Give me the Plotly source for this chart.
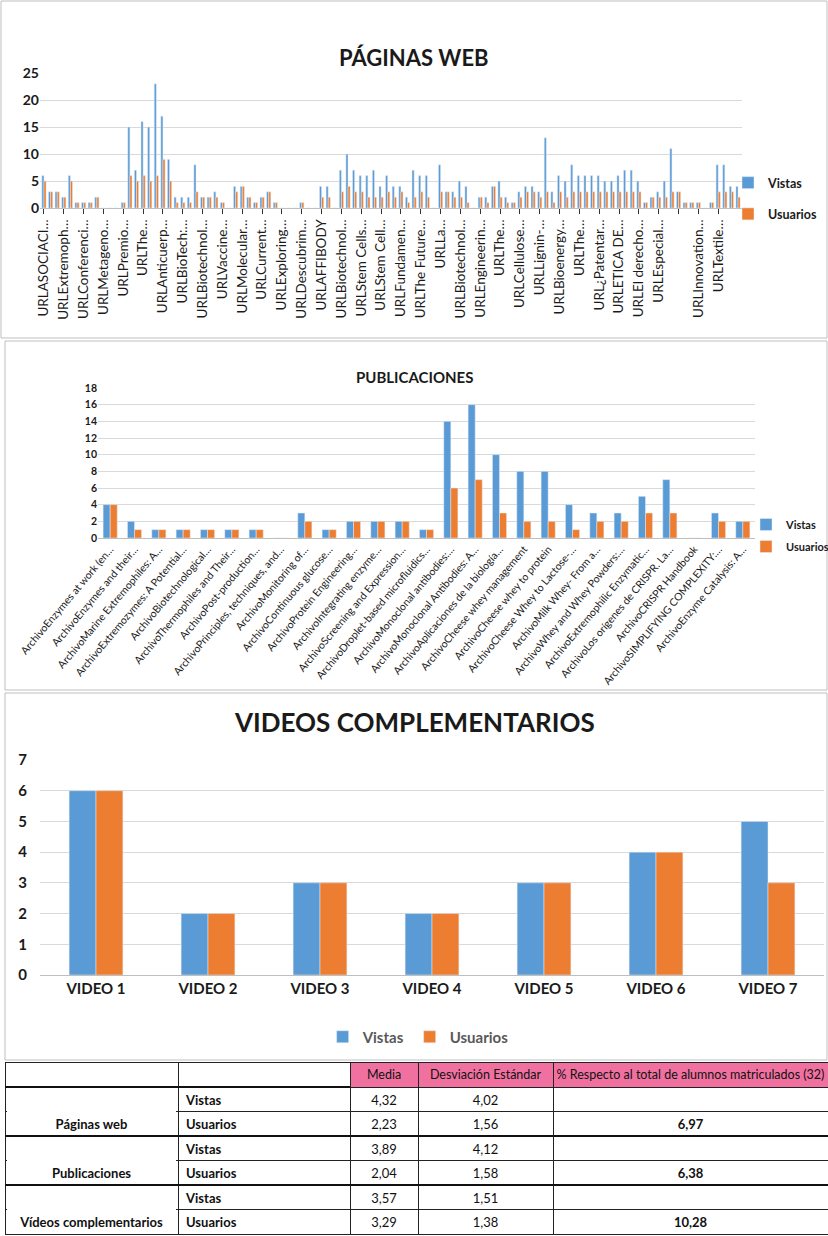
import plotly.graph_objects as go

# ---------------- DATA ----------------
web_labels = [
    "URLASOCIACI…", "URLExtremoph…", "URLConferenci…", "URLMetageno…", "URLPremio…",
    "URLThe…", "URLAnticuerp…", "URLBioTech:…", "URLBiotechnol…", "URLVaccine…",
    "URLMolecular…", "URLCurrent…", "URLExploring…", "URLDescubrim…", "URLAFFIBODY",
    "URLBiotechnol…", "URLStem Cells…", "URLStem Cell…", "URLFundamen…", "URLThe Future…",
    "URLLa…", "URLBiotechnol…", "URLEngineerin…", "URLThe…", "URLCellulose…",
    "URLLignin-…", "URLBioenergy…", "URLThe…", "URL¿Patentar…", "URLETICA DE…",
    "URLEl derecho…", "URLEspecial…", "", "URLInnovation…", "URLTextile…",
]
web_vistas = [
    6, 3, 3, 2, 6, 1, 1, 1, 2, 0,
    0, 0, 1, 15, 7, 16, 15, 23, 17, 9,
    2, 2, 2, 8, 2, 2, 3, 1, 0, 4,
    4, 2, 1, 2, 3, 1, 0, 0, 0, 1,
    0, 0, 4, 4, 0, 7, 10, 7, 6, 6,
    7, 4, 6, 4, 4, 2, 7, 6, 6, 0,
    8, 3, 3, 5, 4, 0, 2, 2, 4, 5,
    2, 1, 3, 4, 4, 3, 13, 3, 6, 5,
    8, 6, 6, 6, 6, 5, 5, 6, 7, 7,
    5, 1, 2, 3, 5, 11, 3, 1, 1, 1,
    0, 1, 8, 8, 4, 4,
]
web_usuarios = [
    5, 3, 3, 2, 5, 1, 1, 1, 2, 0,
    0, 0, 1, 6, 5, 6, 5, 6, 9, 5,
    1, 1, 1, 3, 2, 2, 2, 1, 0, 3,
    4, 2, 1, 2, 3, 1, 0, 0, 0, 1,
    0, 0, 2, 2, 0, 3, 4, 3, 3, 2,
    2, 2, 3, 2, 3, 1, 2, 3, 2, 0,
    3, 3, 2, 2, 1, 0, 2, 1, 4, 2,
    1, 1, 2, 3, 3, 2, 3, 1, 3, 2,
    3, 3, 3, 3, 3, 3, 3, 3, 3, 3,
    3, 1, 2, 2, 2, 3, 3, 1, 1, 1,
    0, 1, 3, 3, 3, 2,
]

pub_labels = [
    "ArchivoEnzymes at work (en…", "ArchivoEnzymes and their…", "ArchivoMarine Extremophiles: A…",
    "ArchivoExtremozymes: A Potential…", "ArchivoBiotechnological…", "ArchivoThermophiles and Their…",
    "ArchivoPost-production…", "ArchivoPrinciples, techniques, and…", "ArchivoMonitoring of…",
    "ArchivoContinuous glucose…", "ArchivoProtein Engineering…", "ArchivoIntegrating enzyme…",
    "ArchivoScreening and Expression…", "ArchivoDroplet-based microfluidics…", "ArchivoMonoclonal antibodies:…",
    "ArchivoMonoclonal Antibodies: A…", "ArchivoAplicaciones de la biología…", "ArchivoCheese whey management",
    "ArchivoCheese whey to protein", "ArchivoCheese Whey to Lactose-…", "ArchivoMilk Whey- From a…",
    "ArchivoWhey and Whey Powders:…", "ArchivoExtremophilic Enzymatic…", "ArchivoLos orígenes de CRISPR. La…",
    "ArchivoCRISPR Handbook", "ArchivoSIMPLIFYING COMPLEXITY:…", "ArchivoEnzyme Catalysis: A…",
]
pub_vistas = [4, 2, 1, 1, 1, 1, 1, 0, 3, 1, 2, 2, 2, 1, 14, 16, 10, 8, 8, 4, 3, 3, 5, 7, 0, 3, 2]
pub_usuarios = [4, 1, 1, 1, 1, 1, 1, 0, 2, 1, 2, 2, 2, 1, 6, 7, 3, 2, 2, 1, 2, 2, 3, 3, 0, 2, 2]

vid_labels = ["VIDEO 1", "VIDEO 2", "VIDEO 3", "VIDEO 4", "VIDEO 5", "VIDEO 6", "VIDEO 7"]
vid_vistas = [6, 2, 3, 2, 3, 4, 5]
vid_usuarios = [6, 2, 3, 2, 3, 4, 3]

table_header = ["", "", "Media", "Desviación Estándar", "% Respecto al total de alumnos matriculados (32)"]
table_groups = ["", "Páginas web", "", "Publicaciones", "", "Vídeos complementarios"]
table_metrics = ["Vistas", "Usuarios", "Vistas", "Usuarios", "Vistas", "Usuarios"]
table_media = ["4,32", "2,23", "3,89", "2,04", "3,57", "3,29"]
table_desv = ["4,02", "1,56", "4,12", "1,58", "1,51", "1,38"]
table_pct = ["", "6,97", "", "6,38", "", "10,28"]

# ---------------- STYLE ----------------
W, H = 828, 1236
BLUE = "#5B9BD5"
ORANGE = "#ED7D31"
GRID = "#D9D9D9"
FONT = "Lato"
PINK = "#F0719F"

TABLE_TOP = 1062
TABLE_LEFT = 5
HEADER_H = 25
ROW_H = 24.5
COLW = [173, 172, 68, 135, 275]


def py(p):
    return 1 - p / H


def px(p):
    return p / W


def nb(s):
    # keep words together inside table cells
    return s.replace(" ", "\u00a0")


fig = go.Figure()

# ---- Panel 1: Páginas web ----
web_x = list(range(len(web_vistas)))
w1 = 0.32
fig.add_trace(go.Bar(x=web_x, y=web_vistas, name="Vistas", marker_color=BLUE, width=w1, offset=-w1,
                     xaxis="x", yaxis="y", legend="legend", legendgroup="a"))
fig.add_trace(go.Bar(x=web_x, y=web_usuarios, name="Usuarios", marker_color=ORANGE, width=w1, offset=0,
                     xaxis="x", yaxis="y", legend="legend", legendgroup="b"))

# ---- Panel 2: Publicaciones ----
w2 = 0.29
fig.add_trace(go.Bar(x=pub_labels, y=pub_vistas, name="Vistas", marker_color=BLUE, width=w2, offset=-w2,
                     xaxis="x2", yaxis="y2", legend="legend2", legendgroup="c"))
fig.add_trace(go.Bar(x=pub_labels, y=pub_usuarios, name="Usuarios", marker_color=ORANGE, width=w2, offset=0,
                     xaxis="x2", yaxis="y2", legend="legend2", legendgroup="d"))

# ---- Panel 3: Videos ----
w3 = 0.24
fig.add_trace(go.Bar(x=vid_labels, y=vid_vistas, name="Vistas", marker_color=BLUE, width=w3, offset=-w3,
                     xaxis="x3", yaxis="y3", legend="legend3"))
fig.add_trace(go.Bar(x=vid_labels, y=vid_usuarios, name="Usuarios", marker_color=ORANGE, width=w3, offset=0,
                     xaxis="x3", yaxis="y3", legend="legend3"))

# ---- Table ----
fig.add_trace(go.Table(
    domain=dict(x=[px(TABLE_LEFT), 1.0], y=[0, py(TABLE_TOP)]),
    columnwidth=COLW,
    header=dict(
        values=[nb(h) for h in table_header],
        fill_color=["white", "white", PINK, PINK, PINK],
        line_color="#222222", line_width=1,
        font=dict(family=FONT, size=12.5, color="#111111"),
        align="center", height=HEADER_H,
    ),
    cells=dict(
        values=[
            [nb(g) for g in table_groups],
            table_metrics,
            table_media,
            table_desv,
            table_pct,
        ],
        fill_color="white",
        line_color="#222222", line_width=1,
        font=dict(family=FONT, size=13, color="#111111",
                  weight=["bold", "bold", "normal", "normal", "bold"]),
        align=["center", "left", "center", "center", "center"],
        height=ROW_H,
    ),
))

fig.update_layout(
    width=W, height=H,
    margin=dict(l=0, r=0, t=0, b=0, autoexpand=False),
    paper_bgcolor="white", plot_bgcolor="white",
    barmode="overlay",
    font=dict(family=FONT, color="#262626"),
    # panel 1 axes
    xaxis=dict(domain=[px(40), px(742)], range=[-0.6, len(web_vistas) - 0.4],
               tickmode="array", tickvals=web_x[::3][:len(web_labels)], ticktext=web_labels,
               tickangle=-90, tickfont=dict(family=FONT, size=13.5, color="#1a1a1a"),
               showline=True, linecolor="#BFBFBF", ticks="outside", ticklen=5, tickcolor="#333333",
               showgrid=False, zeroline=False, fixedrange=True, automargin=False),
    yaxis=dict(domain=[py(208), py(73)], range=[0, 25], dtick=5,
               tickfont=dict(family=FONT, size=14, color="#1a1a1a", weight="bold"),
               gridcolor=GRID, zeroline=False, showline=False, fixedrange=True, automargin=False),
    # panel 2 axes
    xaxis2=dict(domain=[px(98), px(755)], anchor="y2",
                tickmode="array", tickvals=pub_labels, ticktext=pub_labels,
                tickangle=-50, tickfont=dict(family=FONT, size=10.5, color="#1a1a1a"),
                showline=True, linecolor="#BFBFBF", showgrid=False, zeroline=False, fixedrange=True,
                automargin=False),
    yaxis2=dict(domain=[py(538), py(388)], anchor="x2", range=[0, 18], dtick=2,
                tickfont=dict(family=FONT, size=10.5, color="#1a1a1a", weight="bold"),
                gridcolor=GRID, zeroline=False, showline=False, fixedrange=True, automargin=False),
    # panel 3 axes
    xaxis3=dict(domain=[px(40), px(824)], anchor="y3",
                tickfont=dict(family=FONT, size=15, color="#1a1a1a", weight="bold"),
                showline=True, linecolor="#BFBFBF", showgrid=False, zeroline=False, fixedrange=True,
                automargin=False),
    yaxis3=dict(domain=[py(975), py(760)], anchor="x3", range=[0, 7], dtick=1,
                tickfont=dict(family=FONT, size=15, color="#1a1a1a", weight="bold"),
                gridcolor=GRID, zeroline=False, showline=False, fixedrange=True, ticklabelstandoff=12,
                automargin=False),
    legend=dict(x=px(728), y=py(168), xanchor="left", yanchor="top",
                font=dict(family=FONT, size=12.5, color="#1a1a1a", weight="bold"),
                traceorder="grouped", tracegroupgap=12, itemwidth=30, bgcolor="rgba(0,0,0,0)"),
    legend2=dict(x=px(746), y=py(510), xanchor="left", yanchor="top",
                 font=dict(family=FONT, size=11, color="#1a1a1a", weight="bold"),
                 traceorder="grouped", tracegroupgap=3, itemwidth=30, bgcolor="rgba(0,0,0,0)"),
    legend3=dict(orientation="h", x=0.505, y=py(1037), xanchor="center", yanchor="middle",
                 font=dict(family=FONT, size=15, color="#595959", weight="bold"),
                 itemwidth=30, bgcolor="rgba(0,0,0,0)"),
    showlegend=True,
)

# titles
fig.add_annotation(text="<b>PÁGINAS WEB</b>", x=0.5, y=py(42), xref="paper", yref="paper",
                   showarrow=False, font=dict(family=FONT, size=22, color="#1a1a1a"))
fig.add_annotation(text="<b>PUBLICACIONES</b>", x=0.5, y=py(366), xref="paper", yref="paper",
                   showarrow=False, font=dict(family=FONT, size=15, color="#1a1a1a"))
fig.add_annotation(text="<b>VIDEOS COMPLEMENTARIOS</b>", x=0.5, y=py(722), xref="paper", yref="paper",
                   showarrow=False, font=dict(family=FONT, size=26, color="#1a1a1a"))

# panel frames
for (x0, y0, x1, y1) in [(1, 1, 827, 338), (5, 341, 827, 690), (5, 693, 827, 1060)]:
    fig.add_shape(type="rect", xref="paper", yref="paper",
                  x0=px(x0), x1=px(x1), y0=py(y1), y1=py(y0),
                  line=dict(color="#BFBFBF", width=1), fillcolor="rgba(0,0,0,0)", layer="below")

# table merged-cell look: hide inner lines of the group column, thicken group separators
col1_right = TABLE_LEFT + COLW[0]
n_rows = len(table_metrics)
for r in range(1, n_rows, 2):
    yline = TABLE_TOP + HEADER_H + r * ROW_H
    fig.add_shape(type="line", xref="paper", yref="paper",
                  x0=px(TABLE_LEFT + 2), x1=px(col1_right - 2), y0=py(yline), y1=py(yline),
                  line=dict(color="white", width=3), layer="above")
for r in range(0, n_rows, 2):
    yline = TABLE_TOP + HEADER_H + r * ROW_H
    x_end = W if r > 0 else TABLE_LEFT + COLW[0] + COLW[1]
    fig.add_shape(type="line", xref="paper", yref="paper",
                  x0=px(TABLE_LEFT), x1=px(x_end), y0=py(yline), y1=py(yline),
                  line=dict(color="#111111", width=2), layer="above")

fig.write_html("out.html")
